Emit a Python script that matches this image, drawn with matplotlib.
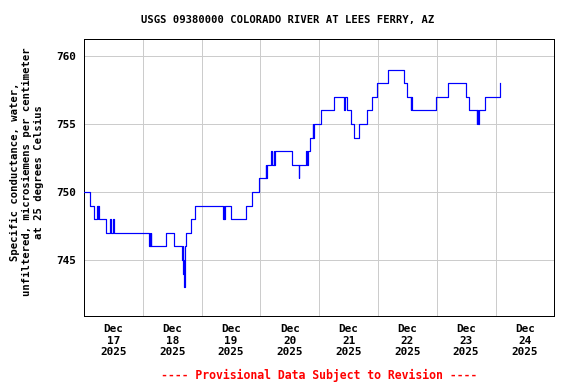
# imports
import numpy as np
import pandas as pd
import matplotlib
matplotlib.use("Agg")
import matplotlib.pyplot as plt
import matplotlib.dates as mdates

# hours after Dec 17 00:00 where the reading changes, and the new reading
change_hours = [0.0, 2.5, 4.2, 5.3, 5.6, 5.8, 6.0, 8.9, 10.6, 11.2, 11.8, 12.3,
                26.5, 26.8, 27.0, 27.3, 27.5, 33.4, 36.9, 40.0, 40.25, 40.5,
                40.75, 41.0, 41.25, 41.8, 43.5, 45.4, 56.8, 57.0, 57.25, 57.5,
                60.0, 66.2, 68.6, 71.6, 74.2, 74.5, 74.7, 76.2, 76.6, 77.4,
                77.7, 78.1, 85.0, 87.6, 87.9, 90.8, 91.0, 91.3, 92.3, 93.4,
                93.6, 93.8, 96.6, 102.1, 106.2, 106.7, 107.3, 108.8, 110.1,
                112.3, 115.6, 117.4, 119.7, 124.1, 130.8, 132.0, 133.3, 133.5,
                133.8, 143.9, 148.4, 155.8, 157.2, 160.4, 160.6, 160.9, 161.3,
                163.7, 170.0]
conductance = [750, 749, 748, 749, 748, 749, 748, 747, 748, 747, 748, 747,
               746, 747, 746, 747, 746, 747, 746, 745, 746, 744,
               745, 743, 746, 747, 748, 749, 748, 749, 748, 749,
               748, 749, 750, 751, 752, 751, 752, 753, 752, 753,
               752, 753, 752, 751, 752, 753, 752, 753, 754, 755,
               754, 755, 756, 757, 756, 757, 756, 755, 754,
               755, 756, 757, 758, 759, 758, 757, 756, 757,
               756, 757, 758, 757, 756, 755, 756, 755, 756,
               757, 758]

yticks = [745, 750, 755, 760]
day_labels = ["Dec\n17\n2025", "Dec\n18\n2025", "Dec\n19\n2025", "Dec\n20\n2025",
              "Dec\n21\n2025", "Dec\n22\n2025", "Dec\n23\n2025", "Dec\n24\n2025"]

title = "USGS 09380000 COLORADO RIVER AT LEES FERRY, AZ"
ylabel = ("Specific conductance, water,\n"
          "unfiltered, microsiemens per centimeter\n"
          "at 25 degrees Celsius")
footer = "---- Provisional Data Subject to Revision ----"

plt.rcParams["font.family"] = "DejaVu Sans Mono"
plt.rcParams["font.weight"] = "bold"

start = pd.Timestamp("2025-12-17")
times = start + pd.to_timedelta(change_hours, unit="h")

fig = plt.figure(figsize=(8, 384 / 72), dpi=72)
ax = fig.add_axes([84 / 576, 68 / 384, 470.3 / 576, 276.7 / 384])

ax.plot(times, conductance, drawstyle="steps-post", color="#0000ff", lw=1.2, zorder=3)

ax.set_xlim(start, start + pd.Timedelta(days=8))
ax.set_ylim(740.88, 761.23)

# gridlines at midnight, labels at noon
midnights = [start + pd.Timedelta(days=d) for d in range(1, 8)]
noons = [start + pd.Timedelta(hours=12 + 24 * d) for d in range(8)]
ax.set_xticks(midnights)
ax.set_xticklabels([])
ax.set_xticks(noons, minor=True)
ax.set_xticklabels(day_labels, minor=True, fontsize=11, fontweight="bold")
ax.tick_params(axis="x", which="both", length=0, pad=8)
ax.grid(True, axis="x", which="major", color="#cccccc", lw=1)

ax.set_yticks(yticks)
ax.set_yticklabels([str(v) for v in yticks], fontsize=11, fontweight="bold")
ax.tick_params(axis="y", length=0, pad=8)
ax.grid(True, axis="y", color="#cccccc", lw=1)

for s in ax.spines.values():
    s.set_linewidth(1.0)
    s.set_color("black")

fig.text(0.5, 1 - 20 / 384, title, ha="center", va="center", fontsize=10.5, fontweight="bold")
fig.text(27 / 576, 1 - 172 / 384, ylabel, rotation=90, ha="center", va="center",
         multialignment="center", fontsize=10.5, fontweight="bold", linespacing=1.2)
fig.text(319 / 576, 1 - 375 / 384, footer, ha="center", va="center", fontsize=11.5,
         fontweight="bold", color="#ff0000")

fig.savefig("out.png", dpi=72)
